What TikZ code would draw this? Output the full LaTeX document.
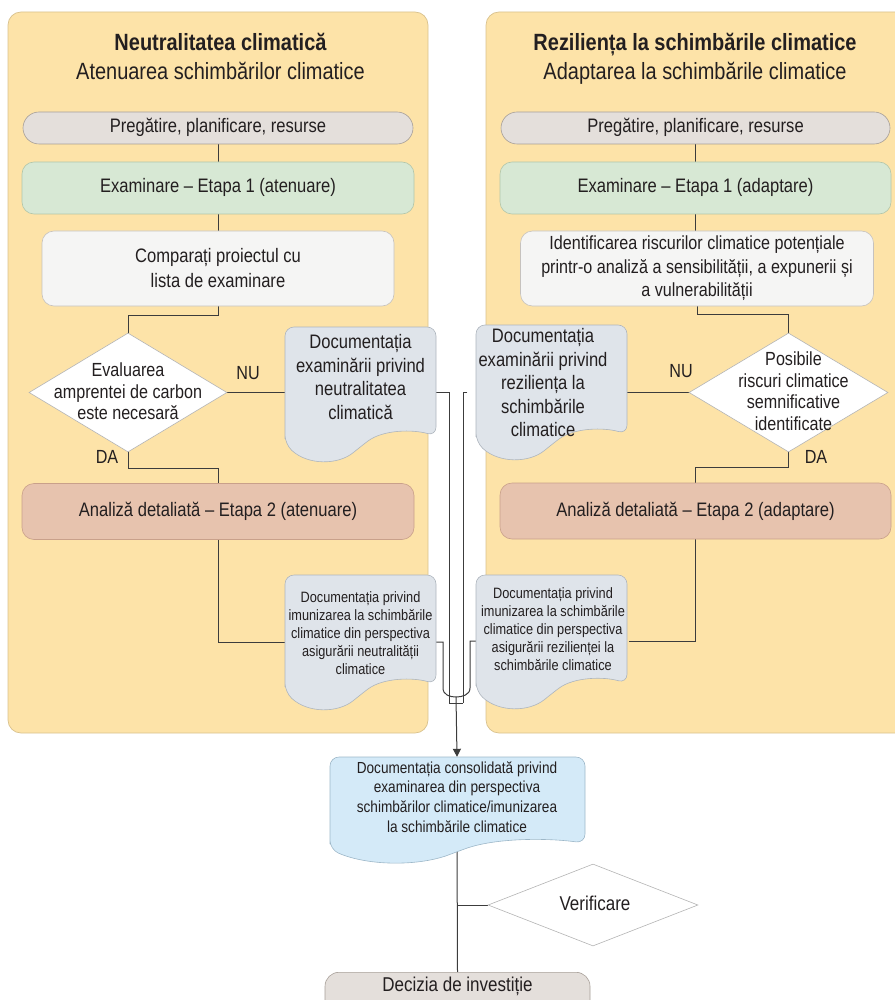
\documentclass[tikz,border=0pt]{standalone}
\usepackage{fontspec}
\setmainfont{Liberation Sans}[FakeStretch=0.85]
\usetikzlibrary{shapes.geometric,arrows.meta,calc}
\definecolor{panelfill}{HTML}{FDE3A8}
\definecolor{panelline}{HTML}{D9C28E}
\definecolor{gfill}{HTML}{E4DFDB}
\definecolor{gline}{HTML}{A79F98}
\definecolor{efill}{HTML}{D7E8D4}
\definecolor{eline}{HTML}{B2C6AA}
\definecolor{cfill}{HTML}{F5F5F4}
\definecolor{cline}{HTML}{C6C2BE}
\definecolor{afill}{HTML}{E7C3AE}
\definecolor{aline}{HTML}{C9A08A}
\definecolor{dfill}{HTML}{DFE4EA}
\definecolor{dline}{HTML}{AEB5BD}
\definecolor{consfill}{HTML}{D4EAF8}
\definecolor{consline}{HTML}{9DB7C8}
\definecolor{txt}{HTML}{231F20}
\definecolor{wire}{HTML}{3C3C3C}
\definecolor{dialine}{HTML}{B4B4B4}
\pgfdeclarelayer{panel}
\pgfdeclarelayer{lines}
\pgfsetlayers{panel,lines,main}
% document shape: x1 y1 x2 y2(lowest wave point) fill line
\newcommand\docshape[6]{%
  \path[draw=#6, fill=#5, line width=0.6pt, rounded corners=9pt]
    (#1,{#4-0.12*(#4-#2)}) -- (#1,#2) -- (#3,#2) -- (#3,{#4-0.18*(#4-#2)})
    .. controls ({#3-0.15*(#3-#1)},{#4-0.23*(#4-#2)}) and ({#3-0.35*(#3-#1)},{#4-0.23*(#4-#2)}) ..
    ({0.5*(#1+#3)},{#4-0.1*(#4-#2)})
    .. controls ({#1+0.35*(#3-#1)},{#4+0.04*(#4-#2)}) and ({#1+0.15*(#3-#1)},{#4+0.04*(#4-#2)}) ..
    (#1,{#4-0.12*(#4-#2)}) -- cycle;}
\newcommand\ctext[2][0pt]{\smash{\makebox[0pt]{\hspace{#1}\raisebox{-.3em}{\begin{tabular}{@{}c@{}}#2\end{tabular}}}}}
\begin{document}
\begin{tikzpicture}[x=1pt,y=-1pt,
  box/.style={line width=0.6pt, inner sep=0pt, align=center, text=txt,
    rounded corners=12pt, font=\fontsize{19.5}{25}\selectfont},
  oneline/.style={text height=14.2pt, text depth=4.2pt},
  dia/.style={diamond, draw=dialine, fill=white, line width=0.6pt, inner sep=0pt,
    text=txt, font=\fontsize{19}{21.5}\selectfont},
  doctext/.style={inner sep=0pt, align=center, text=txt, minimum width=151pt},
  bigdoc/.style={doctext, font=\fontsize{19.5}{23.5}\selectfont},
  smalldoc/.style={doctext, font=\fontsize{15}{18}\selectfont},
  lab/.style={text=txt, inner sep=0pt, font=\fontsize{19}{21}\selectfont},
  title/.style={anchor=base, text=txt, inner sep=0pt, font=\fontsize{23.5}{27}\bfseries\selectfont},
  subtitle/.style={anchor=base, text=txt, inner sep=0pt, font=\fontsize{23.5}{27}\selectfont},
  conn/.style={draw=wire, line width=1pt}
]
\useasboundingbox (0,0) rectangle (894,1000);

\begin{pgfonlayer}{panel}
  \path[fill=panelfill, draw=panelline, line width=0.7pt, rounded corners=13pt] (8,12) rectangle (428,733);
  \path[fill=panelfill, draw=panelline, line width=0.7pt, rounded corners=13pt] (486,12) rectangle (920,733);
\end{pgfonlayer}

% titles
\node[title] (tL) at (220.5,51) {Neutralitatea climatică};
\node[subtitle] (sL) at (220.5,80) {Atenuarea schimbărilor climatice};
\node[title] (tR) at (695,51) {Reziliența la schimbările climatice};
\node[subtitle] (sR) at (695,80) {Adaptarea la schimbările climatice};

% left column
\node[box, oneline, fill=gfill, draw=gline, minimum width=390pt, minimum height=32pt, rounded corners=16pt] (pL) at (218,128) {Pregătire, planificare, resurse};
\node[box, oneline, fill=efill, draw=eline, minimum width=392pt, minimum height=52pt] (eL) at (218,188) {Examinare – Etapa 1 (atenuare)};
\node[box, fill=cfill, draw=cline, minimum width=352pt, minimum height=75pt] (cL) at (218,268.5) {Comparați proiectul cu\\lista de examinare};
\node[dia, minimum width=198pt, minimum height=119pt] (dL) at (128,392.5) {\ctext{Evaluarea\\amprentei de carbon\\este necesară}};
\node[lab] (nuL) at (248,373) {NU};
\node[lab] (daL) at (107,457) {DA};
\docshape{285}{327}{436}{460}{dfill}{dline}
\node[bigdoc] (tUL) at (360.5,377) {Documentația\\examinării privind\\neutralitatea\\climatică};
\node[box, oneline, fill=afill, draw=aline, minimum width=392pt, minimum height=56pt] (aL) at (218,511.5) {Analiză detaliată – Etapa 2 (atenuare)};
\docshape{285}{575}{436}{708}{dfill}{dline}
\node[smalldoc] (tLL) at (360.5,633) {Documentația privind\\imunizarea la schimbările\\climatice din perspectiva\\asigurării neutralității\\climatice};

% right column
\node[box, oneline, fill=gfill, draw=gline, minimum width=389pt, minimum height=32pt, rounded corners=16pt] (pR) at (695.5,128) {Pregătire, planificare, resurse};
\node[box, oneline, fill=efill, draw=eline, minimum width=391pt, minimum height=52pt] (eR) at (695.5,188) {Examinare – Etapa 1 (adaptare)};
\node[box, fill=cfill, draw=cline, minimum width=353pt, minimum height=75pt, font=\fontsize{19}{23.5}\selectfont] (iR) at (697,268.5) {Identificarea riscurilor climatice potențiale\\printr-o analiză a sensibilității, a expunerii și\\a vulnerabilității};
\node[dia, minimum width=199pt, minimum height=119pt] (dR) at (788.5,392.5) {\ctext[10pt]{Posibile\\riscuri climatice\\semnificative\\identificate}};
\node[lab] (nuR) at (681,371) {NU};
\node[lab] (daR) at (816,457) {DA};
\docshape{476}{325}{627}{458}{dfill}{dline}
\node[bigdoc] (tUR) at (543,383) {Documentația\\examinării privind\\reziliența la\\schimbările\\climatice};
\node[box, oneline, fill=afill, draw=aline, minimum width=391pt, minimum height=56pt] (aR) at (695.5,511) {Analiză detaliată – Etapa 2 (adaptare)};
\docshape{476}{575}{627}{707}{dfill}{dline}
\node[smalldoc] (tLR) at (553,629.5) {Documentația privind\\imunizarea la schimbările\\climatice din perspectiva\\asigurării rezilienței la\\schimbările climatice};

% bottom
\docshape{330}{757}{585}{862}{consfill}{consline}
\node[doctext, minimum width=255pt, minimum height=80pt, font=\fontsize{16}{19.8}\selectfont] (cons) at (457,797) {Documentația consolidată privind\\examinarea din perspectiva\\schimbărilor climatice/imunizarea\\la schimbările climatice};
\node[dia, minimum width=210pt, minimum height=82pt, font=\fontsize{20}{22}\selectfont] (vD) at (593,905) {\ctext[4pt]{Verificare}};
\node[box, anchor=north, fill=gfill, draw=gline, minimum width=265pt, rounded corners=14pt,
  inner ysep=6pt, text height=13pt, text depth=24pt, font=\fontsize{20}{24}\selectfont] (dec) at (457.5,972) {Decizia de investiție};

\coordinate (c1) at (449,703);
\coordinate (c2) at (463,703);
\coordinate (h1) at (443,688);
\coordinate (h2) at (470,688);
\coordinate (j) at (456,697);

\begin{pgfonlayer}{lines}
  \draw[conn] (pL) -- (eL);
  \draw[conn] (eL) -- (cL);
  \draw[conn] (cL.south) -- ++(0,9) -| (dL.north);
  \draw[conn] (dL.east) -- (tUL.west |- dL.east);
  \draw[conn] (dL.south) -- ++(0,16) -| (aL.north);
  \draw[conn] (aL.south) |- ([yshift=-9pt]tLL.west);
  \draw[conn] (pR) -- (eR);
  \draw[conn] (eR.south) -- (eR.south |- iR.north);
  \draw[conn] (iR.south) -- ++(0,8) -| (dR.north);
  \draw[conn] (dR.west) -- (tUR.east |- dR.west);
  \draw[conn] (dR.south) -- ++(0,15) -| (aR.north);
  \draw[conn] (aR.south) |- ([yshift=-11.5pt]tLR.east);
  \draw[conn] (tUL.east |- dL.east) -| (c1) -- (c2);
  \draw[conn] (tUR.west |- dR.west) -| (c2);
  \draw[conn] ([yshift=-9pt]tLL.east) -| (h1) .. controls (443,695) and (450,697) .. (j);
  \draw[conn] ([yshift=-11.5pt]tLR.west) -| (h2) .. controls (470,695) and (462,697) .. (j);
  \draw[conn, -{Triangle[width=8pt,length=8pt]}] (j) -- (cons.north);
  \draw[conn] (cons.south) -- (dec.north);
  \draw[conn] (cons.south |- vD.west) -- (vD.west);
\end{pgfonlayer}
\end{tikzpicture}
\end{document}
